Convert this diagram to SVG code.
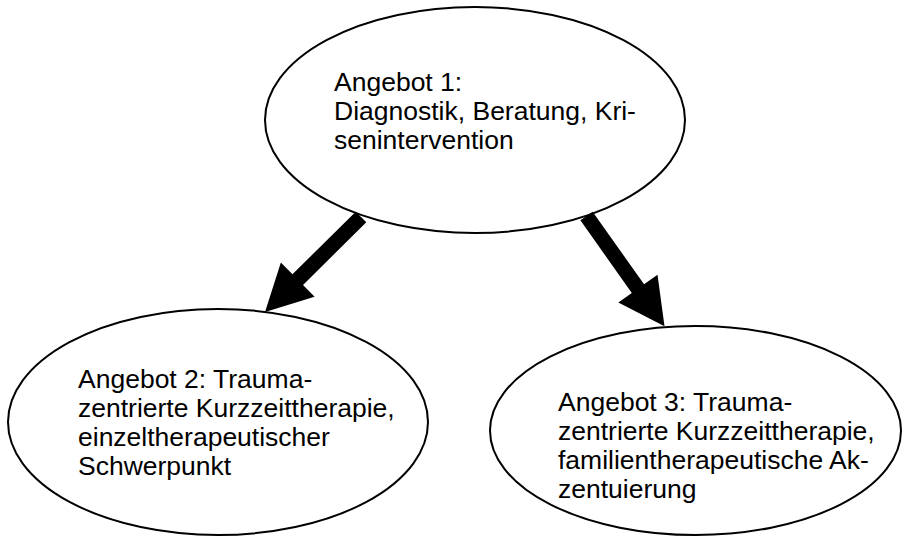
<svg xmlns="http://www.w3.org/2000/svg" xmlns:xlink="http://www.w3.org/1999/xlink" width="902" height="536" viewBox="0 0 902 536">
  <style>
    .node ellipse { fill: #ffffff; stroke: #000000; stroke-width: 2; }
    .node text { font-family: "Liberation Sans", Arial, sans-serif; font-size: 26.5px; fill: #000000; }
    .arrow { fill: #000000; stroke: none; }
  </style>
  <defs>
    <!-- block arrow pointing along +x, tail at the origin -->
    <path id="blockArrow" d="M0,-7.5 L89,-7.5 L89,-24 L135,0 L89,24 L89,7.5 L0,7.5 Z"/>
  </defs>
  <rect width="902" height="536" fill="#ffffff"/>

  <g id="angebot1" class="node">
    <ellipse cx="475" cy="120" rx="210" ry="113"/>
    <text x="334" y="91">Angebot 1:</text>
    <text x="334" y="120">Diagnostik, Beratung, Kri-</text>
    <text x="334" y="149">senintervention</text>
  </g>

  <g id="angebot2" class="node">
    <ellipse cx="218" cy="422" rx="210" ry="113"/>
    <text x="78" y="388">Angebot 2: Trauma-</text>
    <text x="78" y="417">zentrierte Kurzzeittherapie,</text>
    <text x="78" y="446">einzeltherapeutischer</text>
    <text x="78" y="475">Schwerpunkt</text>
  </g>

  <g id="angebot3" class="node">
    <ellipse cx="695.5" cy="430.5" rx="205.5" ry="104.5"/>
    <text x="558" y="411">Angebot 3: Trauma-</text>
    <text x="558" y="440">zentrierte Kurzzeittherapie,</text>
    <text x="558" y="469">familientherapeutische Ak-</text>
    <text x="558" y="498">zentuierung</text>
  </g>

  <g id="connectors">
    <use xlink:href="#blockArrow" class="arrow" transform="translate(361,217) rotate(135.3)"/>
    <use xlink:href="#blockArrow" class="arrow" transform="translate(586.5,216) rotate(54.7)"/>
  </g>
</svg>
